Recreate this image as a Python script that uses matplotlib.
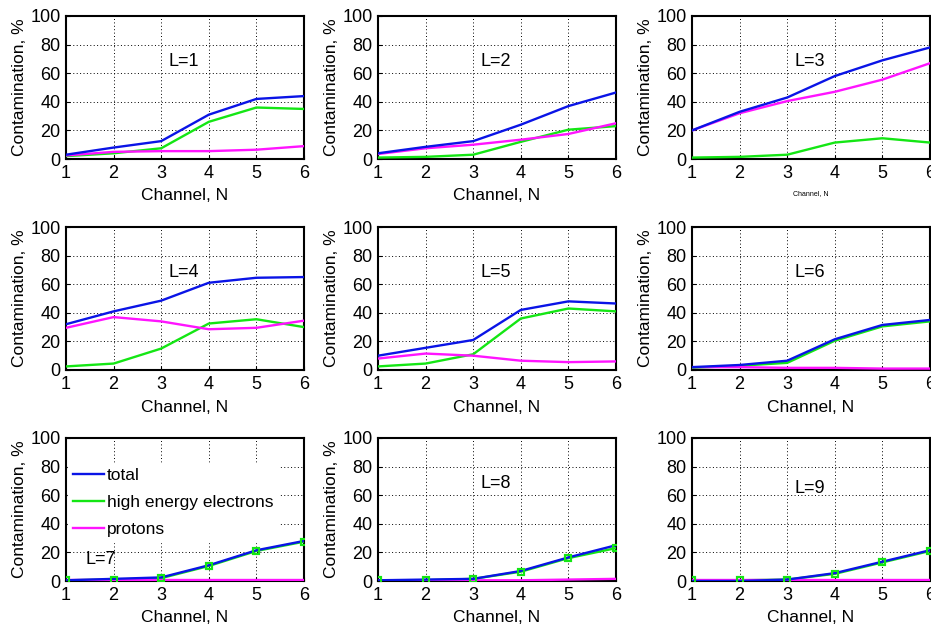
import matplotlib
matplotlib.use("Agg")
import matplotlib.pyplot as plt
import numpy as np

plt.rcParams['font.family'] = ['Liberation Sans', 'DejaVu Sans']

channels = [1, 2, 3, 4, 5, 6]
L_labels = ["L=1", "L=2", "L=3", "L=4", "L=5", "L=6", "L=7", "L=8", "L=9"]

total = [
    [3, 8, 12.5, 31, 42, 44],
    [4, 8.5, 12.5, 24, 37, 46.5],
    [20, 33, 43, 58, 69, 78],
    [32, 41, 48.5, 61, 64.5, 65],
    [10, 15.5, 21, 42, 48, 46.5],
    [2, 3.5, 6.5, 21.5, 31.5, 35],
    [0.5, 1.5, 2.5, 11, 21.5, 28],
    [0.5, 1, 1.5, 7, 16.5, 25],
    [0, 0, 1, 5.5, 13.5, 21.5],
]
electrons = [
    [2, 4, 7.5, 26, 36, 35],
    [1, 1.5, 3, 12, 20.5, 23],
    [1, 1.5, 3, 11.5, 14.5, 11.5],
    [2.5, 4.5, 15, 32.5, 35.5, 30],
    [2.5, 4.5, 11, 36, 43, 41],
    [1.5, 3, 5, 20.5, 30.5, 34],
    [0.5, 1, 2, 10.5, 21, 27.5],
    [0.5, 0.5, 1.5, 6.5, 16, 23],
    [0.5, 0.5, 1, 5, 13, 21],
]
protons = [
    [2.5, 5, 5.5, 5.5, 6.5, 9],
    [3.5, 7.5, 10, 13.5, 17.5, 25],
    [20, 32, 40.5, 47, 55.5, 67],
    [29.5, 37, 34, 28.5, 29.5, 34.5],
    [8, 11.5, 10, 6.5, 5.5, 6],
    [2, 2, 1.5, 1.5, 1, 1],
    [0.5, 0.5, 0.5, 0.5, 0.5, 0.5],
    [0.5, 0.5, 0.5, 0.5, 1, 1.5],
    [0.5, 0.5, 0.5, 0.5, 0.5, 0.5],
]
series_names = ["total", "high energy electrons", "protons"]
yticks = [0, 20, 40, 60, 80, 100]

W, H = 931, 627
fig = plt.figure(figsize=(W / 100, H / 100), dpi=100)

col_left = [66, 378, 692]
ax_w = 238
row_top = [16, 227, 438]
ax_h = 143
label_pos = [(3.15, 68), (3.15, 68), (3.15, 68), (3.15, 68), (3.15, 68), (3.15, 68),
             (1.4, 15), (3.15, 68), (3.15, 65)]

BLUE = '#0a14e6'
GREEN = '#14e614'
MAG = '#ff14ff'

for i in range(9):
    r, c = divmod(i, 3)
    left = col_left[c] / W
    bottom = 1 - (row_top[r] + ax_h) / H
    ax = fig.add_axes([left, bottom, ax_w / W, ax_h / H])
    ax.set_xlim(1, 6)
    ax.set_ylim(0, 100)
    ax.set_xticks(channels)
    ax.set_yticks(yticks)
    ax.grid(True, color='black', linestyle=(0, (1, 2.5)), linewidth=0.7)
    ax.tick_params(direction='in', length=3, labelsize=13, width=0.8, pad=4)
    for s in ax.spines.values():
        s.set_linewidth(1.5)
    marker_kw = {}
    if r == 2:
        marker_kw = dict(marker='s', markersize=4.5, markerfacecolor='none',
                         markeredgecolor=GREEN, markeredgewidth=1.5)
    l1, = ax.plot(channels, electrons[i], color=GREEN, lw=1.7, zorder=3, **marker_kw)
    l2, = ax.plot(channels, protons[i], color=MAG, lw=1.7, zorder=3)
    l0, = ax.plot(channels, total[i], color=BLUE, lw=1.7, zorder=4)
    if r == 2:
        ax.plot(channels, electrons[i], linestyle='none', zorder=5, **marker_kw)
    ax.text(label_pos[i][0], label_pos[i][1], L_labels[i], fontsize=13,
            va='center', zorder=6)
    if i == 2:
        ax.set_xlabel("Channel, N", fontsize=5, labelpad=6)
    else:
        ax.set_xlabel("Channel, N", fontsize=12.5, labelpad=5)
    if i != 8:
        ax.set_ylabel("Contamination, %", fontsize=12.5, labelpad=2)
    if i == 6:
        leg = ax.legend([l0, l1, l2], series_names, loc='upper left',
                        bbox_to_anchor=(0.0, 0.84), fontsize=12.5, frameon=True,
                        framealpha=1, edgecolor='white', facecolor='white',
                        fancybox=False, handlelength=1.8, handletextpad=0.15,
                        labelspacing=0.68, borderpad=0.3, borderaxespad=0.1)
        leg.set_zorder(5)
        for h in leg.legend_handles:
            h.set_marker('')

fig.savefig("out.png", dpi=100)
